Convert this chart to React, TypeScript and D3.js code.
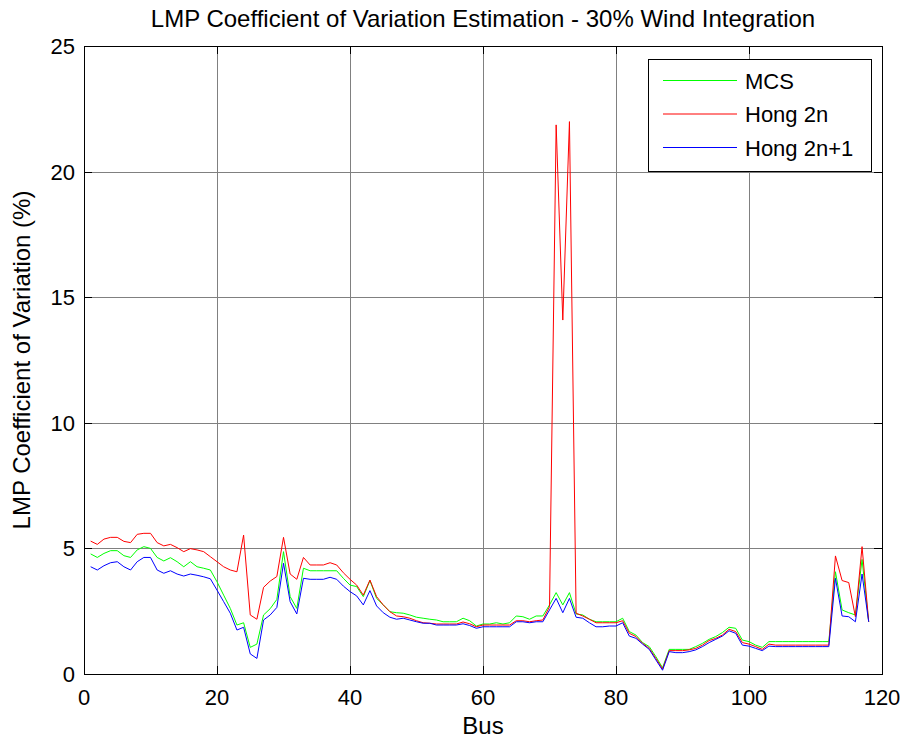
import React from "react";
import * as d3 from "d3";

const buses: number[] = Array.from({ length: 118 }, (_, i) => i + 1);

const mcs: number[] = [
  4.78, 4.64, 4.80, 4.91, 4.91, 4.71, 4.64, 4.94, 5.07, 5.00,
  4.64, 4.50, 4.63, 4.47, 4.27, 4.47, 4.27, 4.21, 4.14, 3.67,
  3.14, 2.61, 1.95, 2.04, 1.06, 1.19, 2.35, 2.60, 2.97, 4.87,
  3.08, 2.61, 4.21, 4.11, 4.11, 4.11, 4.11, 4.11, 3.81, 3.54,
  3.48, 3.08, 3.72, 3.01, 2.75, 2.48, 2.44, 2.42, 2.35, 2.26,
  2.22, 2.18, 2.15, 2.08, 2.08, 2.08, 2.22, 2.12, 1.91, 1.99,
  1.99, 2.04, 1.99, 2.04, 2.31, 2.28, 2.18, 2.31, 2.31, 2.75,
  3.24, 2.75, 3.24, 2.39, 2.35, 2.18, 2.08, 2.08, 2.08, 2.08,
  2.22, 1.69, 1.55, 1.25, 1.09, 0.69, 0.25, 0.98, 0.98, 0.98,
  0.98, 1.09, 1.22, 1.38, 1.49, 1.65, 1.86, 1.82, 1.35, 1.29,
  1.15, 1.06, 1.29, 1.29, 1.29, 1.29, 1.29, 1.29, 1.29, 1.29,
  1.29, 1.29, 4.07, 2.55, 2.44, 2.35, 4.56, 2.08,
];

const hong2n: number[] = [
  5.29, 5.16, 5.37, 5.44, 5.44, 5.28, 5.23, 5.56, 5.60, 5.60,
  5.23, 5.10, 5.16, 5.03, 4.87, 4.99, 4.94, 4.87, 4.67, 4.47,
  4.27, 4.14, 4.07, 5.53, 2.35, 2.18, 3.45, 3.70, 3.88, 5.44,
  3.98, 3.77, 4.64, 4.34, 4.34, 4.34, 4.43, 4.34, 4.03, 3.77,
  3.54, 3.14, 3.74, 3.08, 2.75, 2.48, 2.31, 2.28, 2.22, 2.12,
  2.04, 2.02, 1.99, 1.99, 1.99, 1.99, 2.07, 2.00, 1.88, 1.95,
  1.95, 1.95, 1.95, 1.95, 2.12, 2.12, 2.08, 2.12, 2.15, 2.68,
  21.86, 14.09, 21.99, 2.42, 2.31, 2.18, 2.04, 2.04, 2.04, 2.04,
  2.12, 1.62, 1.49, 1.22, 1.02, 0.62, 0.20, 0.93, 0.93, 0.93,
  0.96, 1.02, 1.15, 1.33, 1.42, 1.55, 1.78, 1.69, 1.25, 1.19,
  1.09, 0.98, 1.19, 1.15, 1.15, 1.15, 1.15, 1.15, 1.15, 1.15,
  1.15, 1.15, 4.70, 3.72, 3.64, 2.28, 5.07, 2.08,
];

const hong2n1: number[] = [
  4.27, 4.14, 4.31, 4.43, 4.47, 4.27, 4.14, 4.47, 4.64, 4.64,
  4.14, 4.01, 4.11, 3.98, 3.90, 3.98, 3.93, 3.87, 3.79, 3.34,
  2.88, 2.42, 1.75, 1.86, 0.80, 0.62, 2.15, 2.35, 2.65, 4.41,
  2.88, 2.39, 3.81, 3.77, 3.77, 3.77, 3.85, 3.77, 3.50, 3.28,
  3.11, 2.75, 3.32, 2.71, 2.44, 2.26, 2.18, 2.22, 2.15, 2.08,
  2.02, 2.02, 1.95, 1.95, 1.95, 1.95, 2.00, 1.93, 1.82, 1.88,
  1.88, 1.88, 1.88, 1.88, 2.08, 2.08, 2.04, 2.08, 2.08, 2.55,
  3.01, 2.44, 3.01, 2.26, 2.22, 2.04, 1.88, 1.88, 1.91, 1.91,
  2.04, 1.51, 1.42, 1.19, 0.98, 0.56, 0.15, 0.89, 0.85, 0.85,
  0.89, 0.96, 1.09, 1.25, 1.38, 1.51, 1.72, 1.62, 1.15, 1.11,
  1.02, 0.93, 1.11, 1.09, 1.09, 1.09, 1.09, 1.09, 1.09, 1.09,
  1.09, 1.09, 3.81, 2.31, 2.28, 2.08, 3.98, 2.08,
];

const seriesNames: string[] = ["MCS", "Hong 2n", "Hong 2n+1"];
const seriesColors: string[] = ["#00ff00", "#ff0000", "#0000ff"];
const xTicks: number[] = [0, 20, 40, 60, 80, 100, 120];
const yTicks: number[] = [0, 5, 10, 15, 20, 25];

const titleText = "LMP Coefficient of Variation Estimation - 30% Wind Integration";
const xLabelText = "Bus";
const yLabelText = "LMP Coefficient of Variation (%)";

const W = 908;
const H = 744;
const L = 84;
const R = 882;
const T = 46;
const B = 674;
const FONT = "Arial, 'Liberation Sans', Helvetica, sans-serif";

export default function App() {
  const x = d3.scaleLinear().domain([0, 120]).range([L, R]);
  const y = d3.scaleLinear().domain([0, 25]).range([B, T]);
  const allSeries = [mcs, hong2n, hong2n1];
  const line = d3
    .line<number>()
    .x((_, i) => x(buses[i]))
    .y((d) => y(d));
  const px = (v: number) => Math.round(v) + 0.5;
  const tickLen = 8;

  return (
    <svg
      width={W}
      height={H}
      style={{ position: "absolute", left: 0, top: 0, display: "block", background: "#fff" }}
      fontFamily={FONT}
    >
      <rect x={0} y={0} width={W} height={H} fill="#fff" />
      {/* grid */}
      {xTicks.map((t) => (
        <line key={"gx" + t} x1={px(x(t))} x2={px(x(t))} y1={T} y2={B} stroke="#808080" strokeWidth={1} />
      ))}
      {yTicks.map((t) => (
        <line key={"gy" + t} x1={L} x2={R} y1={px(y(t))} y2={px(y(t))} stroke="#808080" strokeWidth={1} />
      ))}
      {/* series */}
      <g clipPath="url(#clipPlot)">
        {allSeries.map((s, i) => (
          <path key={"s" + i} d={line(s) || ""} fill="none" stroke={seriesColors[i]} strokeWidth={1} />
        ))}
      </g>
      <defs>
        <clipPath id="clipPlot">
          <rect x={L} y={T} width={R - L} height={B - T} />
        </clipPath>
      </defs>
      {/* box */}
      <rect x={px(L)} y={px(T)} width={Math.round(R) - Math.round(L)} height={Math.round(B) - Math.round(T)} fill="none" stroke="#000" strokeWidth={1} />
      {/* ticks */}
      {xTicks.map((t) => (
        <g key={"tx" + t}>
          <line x1={px(x(t))} x2={px(x(t))} y1={B} y2={B - tickLen} stroke="#000" />
          <line x1={px(x(t))} x2={px(x(t))} y1={T} y2={T + tickLen} stroke="#000" />
          <text x={x(t)} y={705} fontSize={22} textAnchor="middle" fill="#000">
            {t}
          </text>
        </g>
      ))}
      {yTicks.map((t) => (
        <g key={"ty" + t}>
          <line x1={L} x2={L + tickLen} y1={px(y(t))} y2={px(y(t))} stroke="#000" />
          <line x1={R} x2={R - tickLen} y1={px(y(t))} y2={px(y(t))} stroke="#000" />
          <text x={75} y={y(t) + 8} fontSize={22} textAnchor="end" fill="#000">
            {t}
          </text>
        </g>
      ))}
      {/* labels */}
      <text x={(L + R) / 2} y={27} fontSize={24} textAnchor="middle" fill="#000">
        {titleText}
      </text>
      <text x={(L + R) / 2} y={734} fontSize={24} textAnchor="middle" fill="#000">
        {xLabelText}
      </text>
      <text
        transform={`translate(30, ${(T + B) / 2}) rotate(-90)`}
        fontSize={24}
        textAnchor="middle"
        fill="#000"
      >
        {yLabelText}
      </text>
      {/* legend */}
      <g>
        <rect x={648.5} y={59.5} width={223} height={112} fill="#fff" stroke="#000" strokeWidth={1} />
        {seriesNames.map((n, i) => {
          const ly = 80.5 + i * 33.5;
          return (
            <g key={"lg" + i}>
              <line x1={663} x2={737} y1={ly} y2={ly} stroke={seriesColors[i]} strokeWidth={1} />
              <text x={745} y={ly + 8} fontSize={22} fill="#000">
                {n}
              </text>
            </g>
          );
        })}
      </g>
    </svg>
  );
}
